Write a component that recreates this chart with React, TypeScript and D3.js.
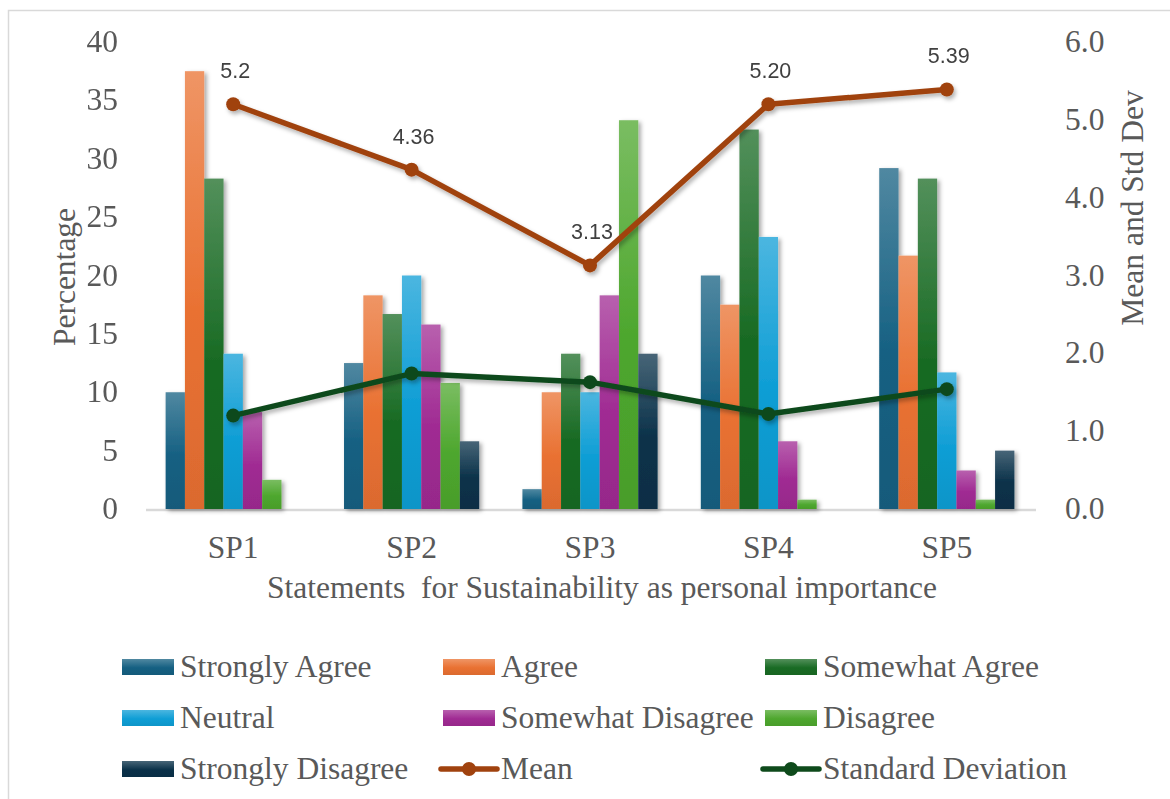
import React from "react";
import * as d3 from "d3";

// Survey statements
const categories = ["SP1", "SP2", "SP3", "SP4", "SP5"];

// Response shares (%) per statement, one array per answer option
const stronglyAgree = [10.0, 12.5, 1.7, 20.0, 29.2];
const agree = [37.5, 18.3, 10.0, 17.5, 21.7];
const somewhatAgree = [28.3, 16.7, 13.3, 32.5, 28.3];
const neutral = [13.3, 20.0, 10.0, 23.3, 11.7];
const somewhatDisagree = [8.3, 15.8, 18.3, 5.8, 3.3];
const disagree = [2.5, 10.8, 33.3, 0.8, 0.8];
const stronglyDisagree = [0.0, 5.8, 13.3, 0.0, 5.0];

// Summary statistics on the secondary axis
const meanValues = [5.2, 4.36, 3.13, 5.2, 5.39];
const meanLabels = ["5.2", "4.36", "3.13", "5.20", "5.39"];
const stdValues = [1.2, 1.74, 1.63, 1.22, 1.54];

// Axis ticks
const leftTicks = [0, 5, 10, 15, 20, 25, 30, 35, 40];
const rightTicks = [0, 1, 2, 3, 4, 5, 6];

const seriesNames = [
  "Strongly Agree",
  "Agree",
  "Somewhat Agree",
  "Neutral",
  "Somewhat Disagree",
  "Disagree",
  "Strongly Disagree",
];
const seriesValues = [
  stronglyAgree,
  agree,
  somewhatAgree,
  neutral,
  somewhatDisagree,
  disagree,
  stronglyDisagree,
];
const seriesColors = [
  "#156082",
  "#E97132",
  "#196B24",
  "#0F9ED5",
  "#A02B93",
  "#4EA72E",
  "#0A3149",
];
const meanColor = "#A0420E";
const stdColor = "#0E4A1B";

const W = 1170;
const H = 799;
const plot = { left: 144, right: 1036, top: 42, bottom: 509 };
const serif = "'Liberation Serif', 'Times New Roman', serif";
const sans = "'Liberation Sans', Arial, sans-serif";
const textColor = "#595959";
const fs = 31.5;

function tint(c: string, k: number) {
  return d3.interpolateRgb(c, "#ffffff")(k);
}
function shade(c: string, k: number) {
  return d3.interpolateRgb(c, "#000000")(k);
}

export default function App() {
  const x0 = d3
    .scaleBand<string>()
    .domain(categories)
    .range([plot.left, plot.right])
    .padding(0);
  const x1 = d3
    .scaleBand<string>()
    .domain(seriesNames)
    .range([0, x0.bandwidth()])
    .paddingInner(0)
    .paddingOuter(1.12);
  const yL = d3.scaleLinear().domain([0, 40]).range([plot.bottom, plot.top]);
  const yR = d3.scaleLinear().domain([0, 6]).range([plot.bottom, plot.top]);
  const cx = (c: string) => (x0(c) ?? 0) + x0.bandwidth() / 2;

  const line = d3
    .line<number>()
    .x((_, i) => cx(categories[i]))
    .y((v) => yR(v));

  // Legend layout: three columns, three rows
  const legendCols = [122, 443, 765];
  const legendRows = [667, 718, 769];
  const legendItems: { name: string; kind: "bar" | "line"; color: string; gid?: string }[] = [
    ...seriesNames.map((n, i) => ({ name: n, kind: "bar" as const, color: seriesColors[i], gid: `g${i}` })),
    { name: "Mean", kind: "line", color: meanColor },
    { name: "Standard Deviation", kind: "line", color: stdColor },
  ];

  return (
    <svg
      width={W}
      height={H}
      style={{ position: "absolute", left: 0, top: 0, background: "#fff" }}
    >
      <defs>
        {seriesColors.map((c, i) => (
          <linearGradient key={i} id={`g${i}`} x1="0" y1="0" x2="0" y2="1">
            <stop offset="0%" stopColor={tint(c, 0.25)} />
            <stop offset="55%" stopColor={c} />
            <stop offset="100%" stopColor={shade(c, 0.06)} />
          </linearGradient>
        ))}
        <filter id="shadow" x="-30%" y="-10%" width="160%" height="130%">
          <feDropShadow dx="2.5" dy="2" stdDeviation="2" floodColor="#000" floodOpacity="0.35" />
        </filter>
        <filter id="lshadow" x="-10%" y="-20%" width="120%" height="140%">
          <feDropShadow dx="2" dy="3" stdDeviation="2" floodColor="#000" floodOpacity="0.3" />
        </filter>
      </defs>

      {/* chart frame */}
      <rect x={8.5} y={10.5} width={W + 10} height={H + 10} fill="none" stroke="#d9d9d9" strokeWidth={1.5} />

      {/* baseline */}
      <line x1={plot.left + 2} x2={plot.right} y1={plot.bottom + 1} y2={plot.bottom + 1} stroke="#d9d9d9" strokeWidth={2.5} />

      {/* grouped bars */}
      <g filter="url(#shadow)">
        {categories.map((c, ci) => (
          <g key={c} transform={`translate(${x0(c)},0)`}>
            {seriesNames.map((s, si) => {
              const v = seriesValues[si][ci];
              if (v <= 0) return null;
              return (
                <rect
                  key={s}
                  x={x1(s)}
                  y={yL(v)}
                  width={x1.bandwidth()}
                  height={plot.bottom - yL(v)}
                  fill={`url(#g${si})`}
                />
              );
            })}
          </g>
        ))}
      </g>

      {/* mean and std dev lines */}
      <g filter="url(#lshadow)">
        <path d={line(meanValues) ?? ""} fill="none" stroke={meanColor} strokeWidth={5.5} strokeLinejoin="round" />
        {meanValues.map((v, i) => (
          <circle key={i} cx={cx(categories[i])} cy={yR(v)} r={7} fill={meanColor} />
        ))}
        <path d={line(stdValues) ?? ""} fill="none" stroke={stdColor} strokeWidth={5.5} strokeLinejoin="round" />
        {stdValues.map((v, i) => (
          <circle key={i} cx={cx(categories[i])} cy={yR(v)} r={7} fill={stdColor} />
        ))}
      </g>

      {/* mean data labels */}
      {meanValues.map((v, i) => (
        <text
          key={i}
          x={cx(categories[i]) + 2}
          y={yR(v) - 26}
          textAnchor="middle"
          fontFamily={sans}
          fontSize={21.5}
          fill="#404040"
        >
          {meanLabels[i]}
        </text>
      ))}

      {/* left axis */}
      {leftTicks.map((t) => (
        <text key={t} x={118} y={yL(t) + 10} textAnchor="end" fontFamily={serif} fontSize={fs} fill={textColor}>
          {t}
        </text>
      ))}
      <text
        transform={`translate(75,277) rotate(-90)`}
        textAnchor="middle"
        fontFamily={serif}
        fontSize={fs}
        fill={textColor}
      >
        Percentage
      </text>

      {/* right axis */}
      {rightTicks.map((t) => (
        <text key={t} x={1065} y={yR(t) + 10} textAnchor="start" fontFamily={serif} fontSize={fs} fill={textColor}>
          {t.toFixed(1)}
        </text>
      ))}
      <text
        transform={`translate(1143,208) rotate(-90)`}
        textAnchor="middle"
        fontFamily={serif}
        fontSize={fs}
        fill={textColor}
      >
        Mean and Std Dev
      </text>

      {/* category axis */}
      {categories.map((c) => (
        <text key={c} x={cx(c)} y={558} textAnchor="middle" fontFamily={serif} fontSize={fs} fill={textColor}>
          {c}
        </text>
      ))}
      <text x={602} y={598} textAnchor="middle" fontFamily={serif} fontSize={fs} fill={textColor} style={{ whiteSpace: "pre" }}>
        {"Statements  for Sustainability as personal importance"}
      </text>

      {/* legend */}
      {legendItems.map((it, i) => {
        const lx = legendCols[i % 3];
        const ly = legendRows[Math.floor(i / 3)];
        return (
          <g key={it.name}>
            {it.kind === "bar" ? (
              <rect x={lx} y={ly - 8} width={52} height={16} fill={`url(#${it.gid})`} />
            ) : (
              <g>
                <line x1={lx - 2} x2={lx + 54} y1={ly} y2={ly} stroke={it.color} strokeWidth={5.5} strokeLinecap="round" />
                <circle cx={lx + 26} cy={ly} r={7} fill={it.color} />
              </g>
            )}
            <text x={lx + 58} y={ly + 10} fontFamily={serif} fontSize={fs} fill={textColor}>
              {it.name}
            </text>
          </g>
        );
      })}
    </svg>
  );
}
